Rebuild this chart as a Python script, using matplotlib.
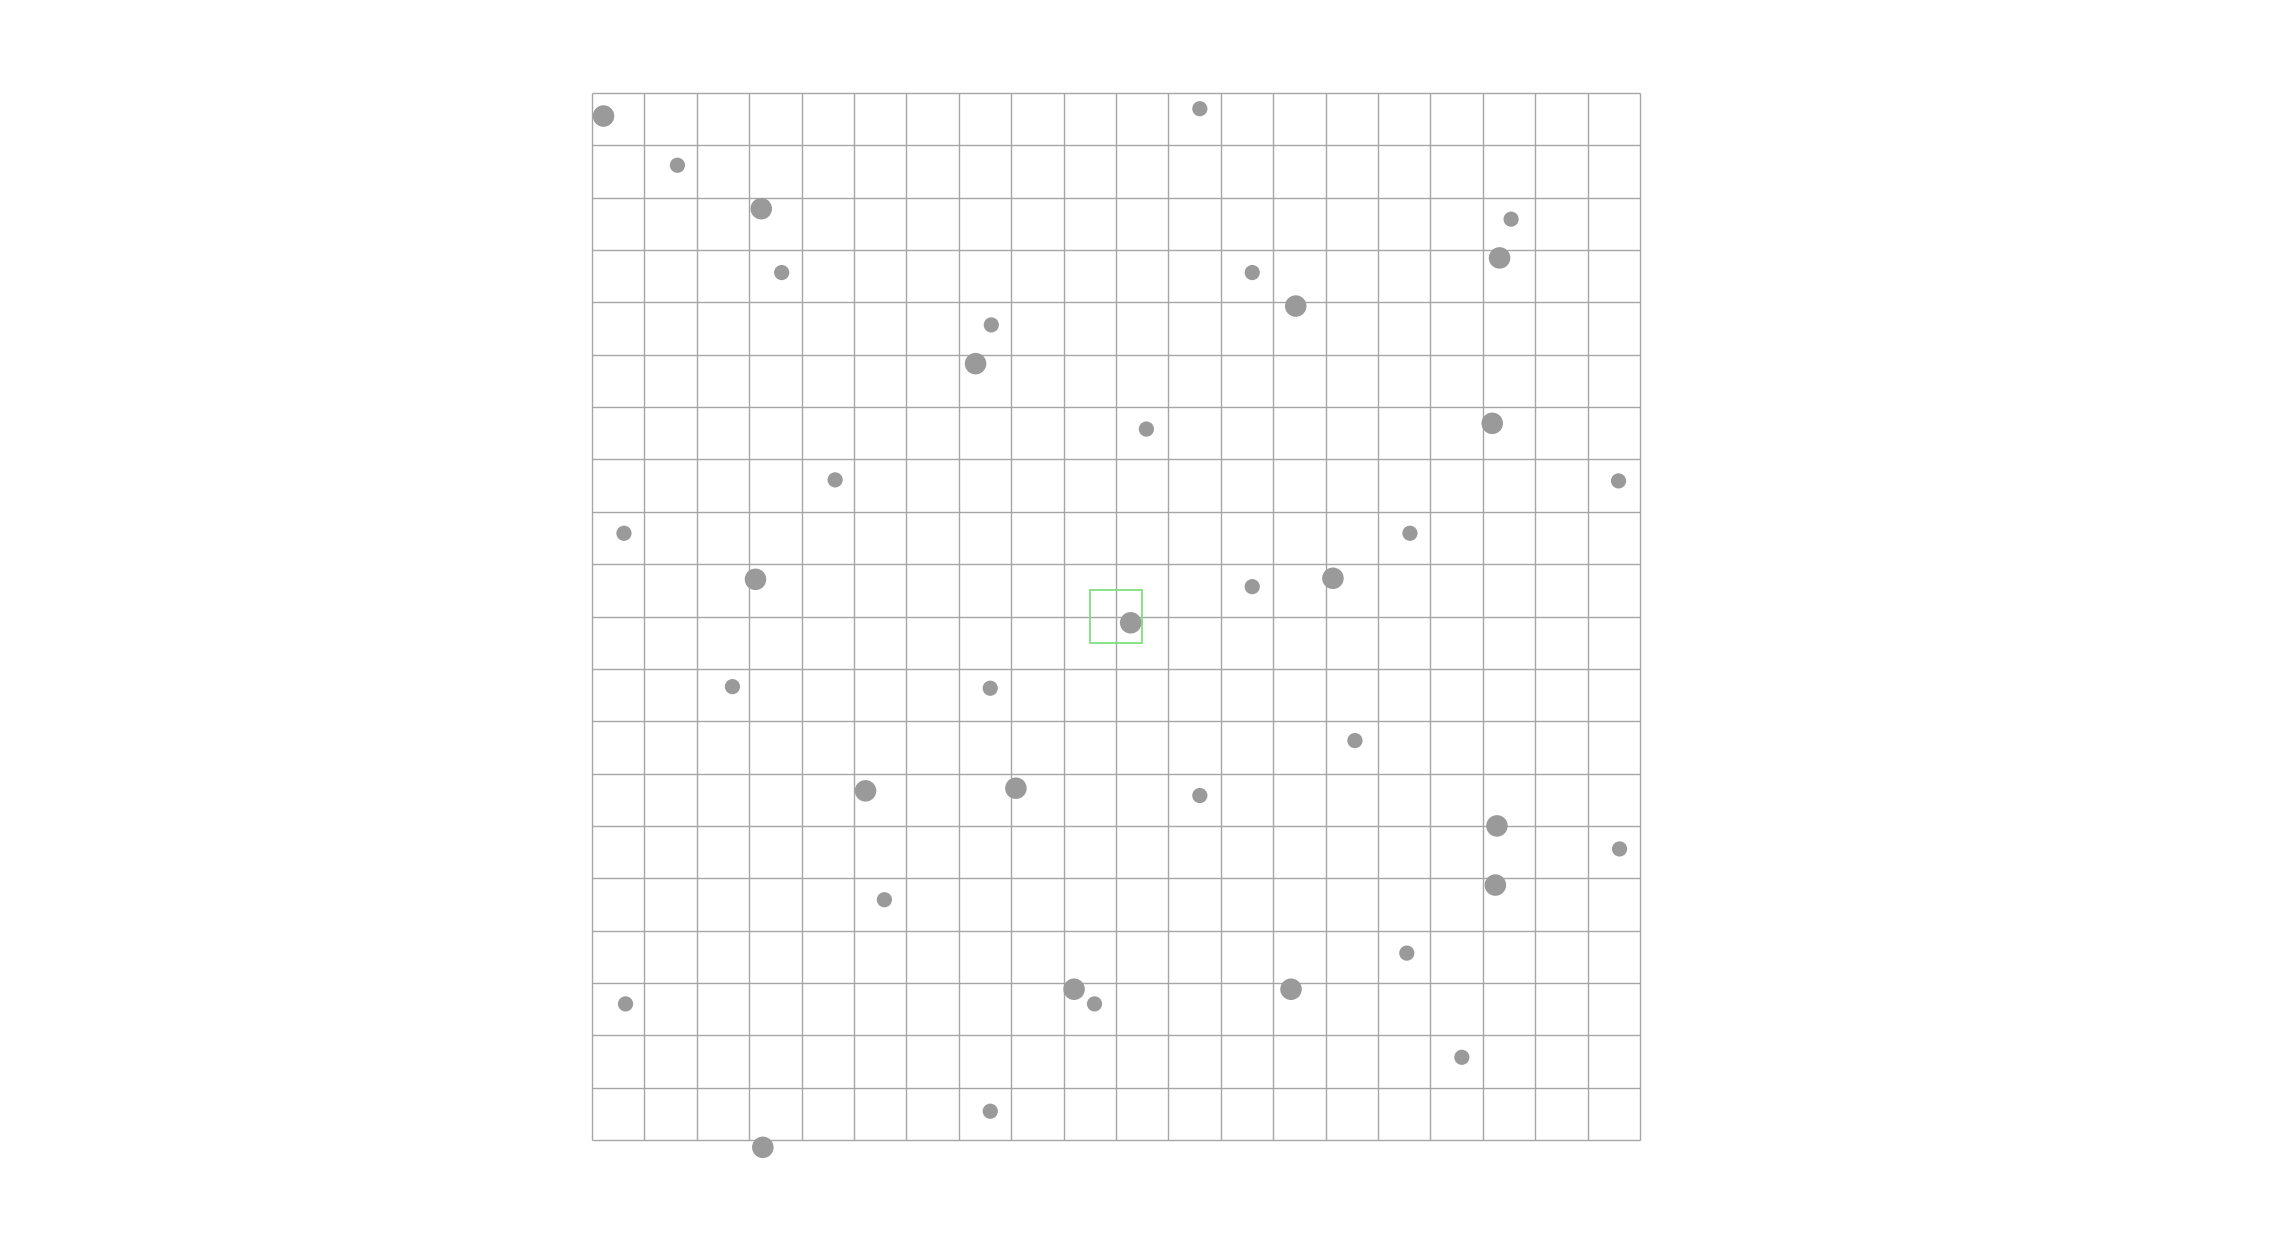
import matplotlib
matplotlib.use("Agg")
import matplotlib.pyplot as plt
from matplotlib.patches import Rectangle

# grid size (cells)
n_cells = 20

# big dots (grid units, y measured from top)
big_x = [0.22, 3.23, 17.32, 13.43, 7.32, 17.18, 3.12, 14.14, 10.28,
         5.22, 8.09, 17.27, 17.24, 9.20, 13.34, 3.26]
big_y = [0.44, 2.21, 3.15, 4.07, 5.17, 6.31, 9.29, 9.27, 10.12,
         13.33, 13.28, 14.00, 15.13, 17.12, 17.12, 20.14]

# small dots
small_x = [1.63, 11.60, 17.54, 3.62, 12.60, 7.62, 10.58, 4.64, 19.59,
           0.61, 15.61, 12.60, 2.68, 7.60, 14.56, 11.60, 19.61, 5.58,
           15.55, 0.64, 9.59, 16.60, 7.60]
small_y = [1.38, 0.30, 2.41, 3.43, 3.43, 4.43, 6.42, 7.39, 7.41,
           8.41, 8.41, 9.43, 11.34, 11.37, 12.37, 13.42, 14.44, 15.41,
           16.43, 17.40, 17.40, 18.42, 19.45]

# highlighted cell centre
focus = (10.0, 10.0)

fig = plt.figure(figsize=(22.7, 12.44), dpi=100)
ax = fig.add_axes([592 / 2270, 104 / 1244, 1048 / 2270, 1047 / 1244])
ax.set_xlim(0, n_cells)
ax.set_ylim(n_cells, 0)
ax.axis('off')

lines = list(range(n_cells + 1))
ax.vlines(lines, 0, n_cells, color='#a6a6a6', linewidth=1.0, zorder=1,
          clip_on=False)
ax.hlines(lines, 0, n_cells, color='#a6a6a6', linewidth=1.0, zorder=1,
          clip_on=False)

ax.scatter(big_x, big_y, s=240, color='#9a9a9a', edgecolors='none',
           zorder=3, clip_on=False)
ax.scatter(small_x, small_y, s=120, color='#9a9a9a', edgecolors='none',
           zorder=3, clip_on=False)

ax.add_patch(Rectangle((focus[0] - 0.5, focus[1] - 0.5), 1, 1, fill=False,
                       edgecolor='#7ee07e', linewidth=1.3, zorder=2))

fig.savefig("out.png", dpi=100, facecolor='white')
